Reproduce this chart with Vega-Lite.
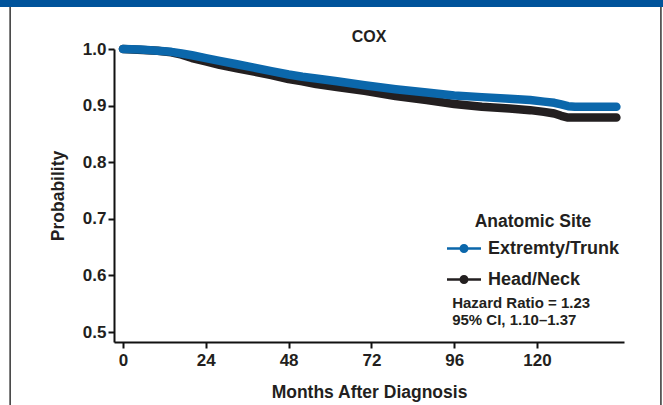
{
  "$schema": "https://vega.github.io/schema/vega-lite/v6.json",
  "width": 510,
  "height": 293,
  "autosize": {"type": "none"},
  "padding": {"left": 114, "top": 49, "right": 39, "bottom": 63},
  "background": "white",
  "config": {
    "view": {"stroke": null},
    "font": "Liberation Sans",
    "axis": {
      "grid": false,
      "domainColor": "#111111",
      "domainWidth": 2,
      "tickColor": "#111111",
      "tickWidth": 2,
      "tickSize": 6,
      "labelFont": "Liberation Sans",
      "labelFontSize": 17,
      "labelFontWeight": "bold",
      "labelColor": "#231f20",
      "titleFont": "Liberation Sans",
      "titleFontSize": 17.5,
      "titleFontWeight": "bold",
      "titleColor": "#231f20"
    }
  },
  "datasets": {
    "curves": [
      {"site": "Extremty/Trunk", "month": 0, "prob": 1.0},
      {"site": "Extremty/Trunk", "month": 5, "prob": 0.999},
      {"site": "Extremty/Trunk", "month": 10, "prob": 0.997},
      {"site": "Extremty/Trunk", "month": 14, "prob": 0.995},
      {"site": "Extremty/Trunk", "month": 17, "prob": 0.992},
      {"site": "Extremty/Trunk", "month": 20, "prob": 0.989},
      {"site": "Extremty/Trunk", "month": 24, "prob": 0.984},
      {"site": "Extremty/Trunk", "month": 28, "prob": 0.979},
      {"site": "Extremty/Trunk", "month": 33, "prob": 0.973},
      {"site": "Extremty/Trunk", "month": 38, "prob": 0.967},
      {"site": "Extremty/Trunk", "month": 43, "prob": 0.961},
      {"site": "Extremty/Trunk", "month": 48, "prob": 0.955},
      {"site": "Extremty/Trunk", "month": 52, "prob": 0.951},
      {"site": "Extremty/Trunk", "month": 56, "prob": 0.948},
      {"site": "Extremty/Trunk", "month": 62, "prob": 0.943},
      {"site": "Extremty/Trunk", "month": 70, "prob": 0.936},
      {"site": "Extremty/Trunk", "month": 79, "prob": 0.929},
      {"site": "Extremty/Trunk", "month": 88, "prob": 0.923},
      {"site": "Extremty/Trunk", "month": 96, "prob": 0.918},
      {"site": "Extremty/Trunk", "month": 104, "prob": 0.915},
      {"site": "Extremty/Trunk", "month": 112, "prob": 0.912},
      {"site": "Extremty/Trunk", "month": 118, "prob": 0.91},
      {"site": "Extremty/Trunk", "month": 122, "prob": 0.907},
      {"site": "Extremty/Trunk", "month": 125, "prob": 0.905},
      {"site": "Extremty/Trunk", "month": 127, "prob": 0.902},
      {"site": "Extremty/Trunk", "month": 129, "prob": 0.899},
      {"site": "Extremty/Trunk", "month": 131, "prob": 0.898},
      {"site": "Extremty/Trunk", "month": 143, "prob": 0.898},
      {"site": "Head/Neck", "month": 0, "prob": 1.0},
      {"site": "Head/Neck", "month": 10, "prob": 0.997},
      {"site": "Head/Neck", "month": 14, "prob": 0.994},
      {"site": "Head/Neck", "month": 17, "prob": 0.99},
      {"site": "Head/Neck", "month": 20, "prob": 0.984},
      {"site": "Head/Neck", "month": 24, "prob": 0.978},
      {"site": "Head/Neck", "month": 28, "prob": 0.972},
      {"site": "Head/Neck", "month": 33, "prob": 0.966},
      {"site": "Head/Neck", "month": 38, "prob": 0.96},
      {"site": "Head/Neck", "month": 43, "prob": 0.954},
      {"site": "Head/Neck", "month": 48, "prob": 0.947},
      {"site": "Head/Neck", "month": 52, "prob": 0.943},
      {"site": "Head/Neck", "month": 56, "prob": 0.938},
      {"site": "Head/Neck", "month": 62, "prob": 0.933},
      {"site": "Head/Neck", "month": 70, "prob": 0.926},
      {"site": "Head/Neck", "month": 79, "prob": 0.917},
      {"site": "Head/Neck", "month": 88, "prob": 0.91},
      {"site": "Head/Neck", "month": 96, "prob": 0.903},
      {"site": "Head/Neck", "month": 104, "prob": 0.898},
      {"site": "Head/Neck", "month": 112, "prob": 0.895},
      {"site": "Head/Neck", "month": 118, "prob": 0.892},
      {"site": "Head/Neck", "month": 122, "prob": 0.889},
      {"site": "Head/Neck", "month": 125, "prob": 0.886},
      {"site": "Head/Neck", "month": 127, "prob": 0.882},
      {"site": "Head/Neck", "month": 129, "prob": 0.879},
      {"site": "Head/Neck", "month": 143, "prob": 0.879}
    ],
    "single": [{"note": "annotation"}]
  },
  "layer": [
    {
      "data": {"name": "single"},
      "mark": {"type": "rect", "color": "#00539b"},
      "encoding": {
        "x": {"datum": -40, "type": "quantitative"},
        "x2": {"datum": 165},
        "y": {"datum": 1.12, "type": "quantitative"},
        "y2": {"datum": 1.0742}
      }
    },
    {
      "data": {"name": "single"},
      "mark": {"type": "rule", "color": "#333333", "strokeWidth": 1.5},
      "encoding": {
        "x": {"datum": -32.7, "type": "quantitative"},
        "y": {"datum": 1.0742, "type": "quantitative"},
        "y2": {"datum": 0.3}
      }
    },
    {
      "data": {"name": "single"},
      "mark": {"type": "rule", "color": "#333333", "strokeWidth": 1.5},
      "encoding": {
        "x": {"datum": 155.9, "type": "quantitative"},
        "y": {"datum": 1.0742, "type": "quantitative"},
        "y2": {"datum": 0.3}
      }
    },
    {
      "data": {"name": "curves"},
      "transform": [{"filter": "datum.site === 'Head/Neck'"}],
      "mark": {"type": "line", "strokeWidth": 8.5, "strokeCap": "round", "strokeJoin": "round"},
      "encoding": {
        "x": {
          "field": "month", "type": "quantitative",
          "scale": {"domain": [-2.6, 145.2], "nice": false, "zero": false},
          "axis": {"values": [0, 24, 48, 72, 96, 120], "format": "d", "title": "Months After Diagnosis", "labelPadding": 4, "titlePadding": 15, "labelFontSize": 17, "titleFontSize": 17.5}
        },
        "y": {
          "field": "prob", "type": "quantitative",
          "scale": {"domain": [0.4825, 1.0], "nice": false, "zero": false},
          "axis": {"values": [0.5, 0.6, 0.7, 0.8, 0.9, 1.0], "format": ".1f", "title": "Probability", "labelPadding": 2, "titlePadding": 15, "labelFontSize": 17, "titleFontSize": 17.5}
        },
        "color": {
          "field": "site", "type": "nominal",
          "scale": {"domain": ["Extremty/Trunk", "Head/Neck"], "range": ["#0b67ab", "#231f20"]},
          "legend": {
            "orient": "none",
            "legendX": 333,
            "legendY": 164,
            "padding": 0,
            "title": "Anatomic Site",
            "titleFontSize": 17.5,
            "titleFontWeight": "bold",
            "titleColor": "#231f20",
            "titleAnchor": "middle",
            "titlePadding": 8,
            "labelFontSize": 18,
            "labelFontWeight": "bold",
            "labelColor": "#231f20",
            "labelOffset": 21,
            "rowPadding": 12,
            "symbolType": "M-1,-0.13H2.4V0.13H-1Z M1.15,0A0.45,0.45,0,1,1,0.25,0A0.45,0.45,0,1,1,1.15,0Z",
            "symbolSize": 400,
            "symbolStrokeWidth": 0,
            "encode": {"symbols": {"update": {"fill": {"scale": "color", "field": "value"}, "strokeWidth": {"value": 0}}}}
          }
        }
      }
    },
    {
      "data": {"name": "curves"},
      "transform": [{"filter": "datum.site === 'Extremty/Trunk'"}],
      "mark": {"type": "line", "strokeWidth": 8.5, "strokeCap": "round", "strokeJoin": "round"},
      "encoding": {
        "x": {"field": "month", "type": "quantitative"},
        "y": {"field": "prob", "type": "quantitative"},
        "color": {"field": "site", "type": "nominal"}
      }
    },
    {
      "data": {"name": "single"},
      "mark": {"type": "text", "text": "COX", "fontSize": 16, "fontWeight": "bold", "color": "#231f20", "align": "center", "baseline": "middle"},
      "encoding": {
        "x": {"datum": 71.3, "type": "quantitative"},
        "y": {"datum": 1.0212, "type": "quantitative"}
      }
    },
    {
      "data": {"name": "single"},
      "mark": {"type": "text", "text": ["Hazard Ratio = 1.23", "95% CI, 1.10\u20131.37"], "fontSize": 15, "fontWeight": "bold", "color": "#231f20", "align": "left", "baseline": "middle", "lineHeight": 17},
      "encoding": {
        "x": {"datum": 95.4, "type": "quantitative"},
        "y": {"datum": 0.551, "type": "quantitative"}
      }
    }
  ]
}
